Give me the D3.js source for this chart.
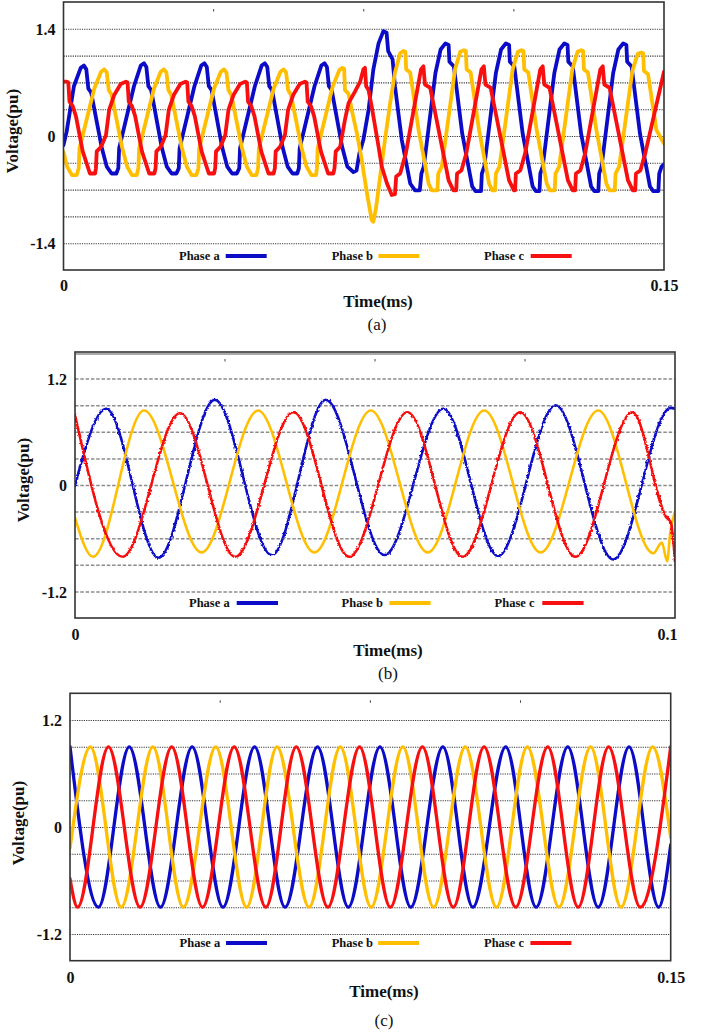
<!DOCTYPE html>
<html>
<head>
<meta charset="utf-8">
<script src="https://cdn.jsdelivr.net/npm/d3@7"></script>
<style>
  body { margin: 0; background: #fff; }
  svg { display: block; }
  text { font-family: "Liberation Serif", "Times New Roman", serif; fill: #111; }
  .tick text { font-size: 16px; font-weight: bold; }
  .axis-title { font-size: 17px; font-weight: bold; }
  .legend text { font-size: 12.5px; font-weight: bold; }
  .caption { font-size: 17px; }
</style>
</head>
<body>
<svg id="chart" width="709" height="1034"></svg>
<script>
// ---- data (time in ms, voltage in pu) ----

// panel (a)
const panelA_tMax = 0.15, panelA_vMax = 1.75;
const panelA_grid = [-1.4, -1.05, -0.7, -0.35, 0, 0.35, 0.7, 1.05, 1.4];
const panelA_yTicks = [-1.4, 0, 1.4];
const panelA_yTickLabels = ["-1.4", "0", "1.4"];
const panelA_xTicks = [0, 0.15];
const panelA_xTickLabels = ["0", "0.15"];

const panelA_phaseA = [
  [0,-0.12],[0.0008,0.06],[0.0026,0.65],[0.0043,0.89],[0.0051,0.92],[0.0057,0.87],[0.0062,0.62],[0.0069,0.57],[0.0095,-0.14],[0.0108,-0.40],[0.0120,-0.49],[0.0132,-0.49],
  [0.0137,-0.42],[0.0139,-0.16],[0.0176,0.65],[0.0193,0.92],[0.0201,0.95],[0.0207,0.90],[0.0212,0.65],[0.0219,0.60],[0.0245,-0.14],[0.0258,-0.40],[0.0270,-0.49],[0.0282,-0.49],
  [0.0288,-0.42],[0.0290,-0.16],[0.0327,0.65],[0.0344,0.92],[0.0352,0.95],[0.0358,0.90],[0.0363,0.65],[0.0370,0.60],[0.0396,-0.14],[0.0409,-0.40],[0.0421,-0.49],[0.0433,-0.49],
  [0.0439,-0.42],[0.0441,-0.16],[0.0478,0.65],[0.0495,0.92],[0.0503,0.95],[0.0509,0.90],[0.0514,0.65],[0.0521,0.60],[0.0547,-0.14],[0.0560,-0.40],[0.0572,-0.49],[0.0584,-0.49],
  [0.0588,-0.42],[0.0590,-0.16],[0.0627,0.65],[0.0644,0.92],[0.0652,0.95],[0.0658,0.90],[0.0663,0.65],[0.0670,0.60],[0.0696,-0.14],[0.0709,-0.40],
  [0.0724,-0.47],[0.0732,-0.45],[0.0739,-0.23],[0.0749,-0.05],[0.0762,0.34],[0.0774,0.87],[0.0787,1.21],[0.0799,1.37],[0.0807,1.35],[0.0811,1.11],[0.0822,1.00],[0.0828,0.65],[0.0845,-0.05],[0.0866,-0.62],[0.0878,-0.71],[0.0890,-0.71],
  [0.0894,-0.49],[0.0900,-0.40],[0.0929,0.82],[0.0942,1.13],[0.0954,1.21],[0.0962,1.19],[0.0964,0.97],[0.0975,0.91],[0.0996,0.03],[0.1021,-0.66],[0.1029,-0.72],[0.1043,-0.72],
  [0.1045,-0.49],[0.1051,-0.40],[0.1080,0.82],[0.1093,1.13],[0.1105,1.21],[0.1113,1.19],[0.1115,0.97],[0.1126,0.91],[0.1147,0.03],[0.1172,-0.66],[0.1180,-0.72],[0.1189,-0.72],
  [0.1191,-0.49],[0.1197,-0.40],[0.1226,0.82],[0.1239,1.13],[0.1251,1.21],[0.1259,1.19],[0.1261,0.97],[0.1272,0.91],[0.1293,0.03],[0.1318,-0.66],[0.1326,-0.72],[0.1336,-0.72],
  [0.1338,-0.49],[0.1344,-0.40],[0.1373,0.82],[0.1386,1.13],[0.1398,1.21],[0.1406,1.19],[0.1408,0.97],[0.1419,0.91],[0.1440,0.03],[0.1465,-0.66],[0.1473,-0.72],[0.1486,-0.72],
  [0.1488,-0.49],[0.1494,-0.40],[0.1500,-0.37]
];
const panelA_phaseB = [
  [0,-0.21],[0.0009,-0.40],[0.0021,-0.51],[0.0033,-0.51],
  [0.0038,-0.42],[0.0040,-0.16],[0.0077,0.62],[0.0094,0.84],[0.0102,0.87],[0.0108,0.83],[0.0113,0.60],[0.0120,0.54],[0.0146,-0.14],[0.0159,-0.40],[0.0171,-0.51],[0.0183,-0.51],
  [0.0187,-0.42],[0.0189,-0.16],[0.0226,0.62],[0.0243,0.84],[0.0251,0.87],[0.0257,0.83],[0.0262,0.60],[0.0269,0.54],[0.0295,-0.14],[0.0308,-0.40],[0.0320,-0.51],[0.0332,-0.51],
  [0.0337,-0.42],[0.0339,-0.16],[0.0376,0.62],[0.0393,0.84],[0.0401,0.87],[0.0407,0.83],[0.0412,0.60],[0.0419,0.54],[0.0445,-0.14],[0.0458,-0.40],[0.0470,-0.51],[0.0482,-0.51],
  [0.0486,-0.42],[0.0488,-0.16],[0.0525,0.62],[0.0542,0.84],[0.0550,0.87],[0.0556,0.83],[0.0561,0.60],[0.0568,0.54],[0.0594,-0.14],[0.0607,-0.40],[0.0619,-0.51],[0.0631,-0.51],
  [0.0633,-0.42],[0.0635,-0.16],[0.0672,0.64],[0.0689,0.86],[0.0697,0.89],[0.0701,0.88],[0.0703,0.60],[0.0712,0.55],[0.0720,0.34],[0.0733,0.03],[0.0745,-0.31],[0.0758,-0.75],
  [0.0770,-1.10],[0.0774,-1.12],[0.0781,-0.93],[0.0791,-0.53],[0.0803,-0.05],[0.0816,0.43],[0.0828,0.83],[0.0841,1.08],[0.0849,1.11],
  [0.0854,1.10],[0.0856,0.87],[0.0866,0.83],[0.0887,0.08],[0.0912,-0.62],[0.0920,-0.71],[0.0934,-0.71],
  [0.0936,-0.49],[0.0945,-0.40],[0.0978,0.87],[0.0991,1.10],[0.1000,1.12],[0.1005,1.11],[0.1007,0.87],[0.1017,0.83],[0.1038,0.08],[0.1063,-0.62],[0.1071,-0.71],[0.1078,-0.71],
  [0.1080,-0.49],[0.1089,-0.40],[0.1122,0.87],[0.1135,1.10],[0.1144,1.12],[0.1149,1.11],[0.1151,0.87],[0.1161,0.83],[0.1182,0.08],[0.1207,-0.62],[0.1215,-0.71],[0.1227,-0.71],
  [0.1229,-0.49],[0.1238,-0.40],[0.1271,0.87],[0.1284,1.10],[0.1293,1.12],[0.1298,1.11],[0.1300,0.87],[0.1310,0.83],[0.1331,0.08],[0.1356,-0.62],[0.1364,-0.71],[0.1377,-0.71],
  [0.1379,-0.49],[0.1388,-0.40],[0.1421,0.85],[0.1434,1.07],[0.1443,1.09],[0.1448,1.08],[0.1450,0.85],[0.1460,0.81],[0.1481,0.08],[0.1500,-0.10]
];
const panelA_phaseC = [
  [0,0.71],[0.0008,0.71],[0.0012,0.70],[0.0015,0.45],[0.0023,0.39],[0.0031,0.26],[0.0048,-0.20],[0.0066,-0.49],[0.0079,-0.49],
  [0.0081,-0.42],[0.0083,-0.20],[0.0094,-0.14],[0.0106,0.01],[0.0114,0.34],[0.0127,0.54],[0.0143,0.68],[0.0156,0.71],[0.0160,0.70],[0.0163,0.45],[0.0171,0.39],[0.0179,0.26],[0.0196,-0.20],[0.0214,-0.49],[0.0227,-0.49],
  [0.0230,-0.42],[0.0232,-0.20],[0.0243,-0.14],[0.0255,0.01],[0.0263,0.34],[0.0276,0.54],[0.0292,0.68],[0.0305,0.71],[0.0309,0.70],[0.0312,0.45],[0.0320,0.39],[0.0328,0.26],[0.0345,-0.20],[0.0363,-0.49],[0.0376,-0.49],
  [0.0379,-0.42],[0.0381,-0.20],[0.0392,-0.14],[0.0404,0.01],[0.0412,0.34],[0.0425,0.54],[0.0441,0.68],[0.0454,0.71],[0.0458,0.70],[0.0461,0.45],[0.0469,0.39],[0.0477,0.26],[0.0494,-0.20],[0.0512,-0.49],[0.0525,-0.49],
  [0.0528,-0.42],[0.0530,-0.20],[0.0541,-0.14],[0.0553,0.01],[0.0561,0.34],[0.0574,0.54],[0.0590,0.68],[0.0603,0.71],[0.0607,0.70],[0.0610,0.45],[0.0618,0.39],[0.0626,0.26],[0.0643,-0.20],[0.0661,-0.49],[0.0674,-0.49],
  [0.0677,-0.42],[0.0680,-0.20],[0.0691,-0.14],[0.0703,0.21],[0.0712,0.43],[0.0728,0.58],[0.0741,0.71],[0.0749,0.87],[0.0753,0.89],[0.0756,0.65],[0.0762,0.60],[0.0770,0.38],[0.0787,-0.14],[0.0795,-0.40],
  [0.0808,-0.62],[0.0820,-0.77],[0.0828,-0.76],[0.0831,-0.53],[0.0841,-0.49],
  [0.0855,-0.23],[0.0893,0.87],[0.0899,0.91],[0.0903,0.67],[0.0916,0.63],[0.0937,0.08],[0.0962,-0.58],[0.0974,-0.71],[0.0981,-0.71],
  [0.0983,-0.49],[0.0994,-0.45],[0.1006,-0.23],[0.1044,0.87],[0.1050,0.91],[0.1054,0.67],[0.1067,0.63],[0.1088,0.08],[0.1113,-0.58],[0.1125,-0.71],[0.1128,-0.71],
  [0.1130,-0.49],[0.1141,-0.45],[0.1153,-0.23],[0.1191,0.87],[0.1197,0.91],[0.1201,0.67],[0.1214,0.63],[0.1235,0.08],[0.1260,-0.58],[0.1272,-0.71],[0.1278,-0.71],
  [0.1280,-0.49],[0.1291,-0.45],[0.1303,-0.23],[0.1341,0.87],[0.1347,0.91],[0.1351,0.67],[0.1364,0.63],[0.1385,0.08],[0.1410,-0.58],[0.1422,-0.71],[0.1428,-0.71],
  [0.1430,-0.49],[0.1441,-0.45],[0.1453,-0.23],[0.1500,0.84]
];

// panel (b)
const panelB_tMax = 0.1, panelB_vMax = 1.5;
const panelB_grid = [-1.2, -0.9, -0.6, -0.3, 0, 0.3, 0.6, 0.9, 1.2];
const panelB_yTicks = [-1.2, 0, 1.2];
const panelB_yTickLabels = ["-1.2", "0", "1.2"];
const panelB_xTicks = [0, 0.1];
const panelB_xTickLabels = ["0", "0.1"];

const panelB_phaseA = [
  [0,0.0],[0.0052,0.86],[0.0139,-0.82],[0.0233,0.96],[0.0328,-0.79],[0.0418,0.96],[0.0516,-0.79],
  [0.0614,0.86],[0.0705,-0.80],[0.0801,0.90],[0.0897,-0.84],[0.0993,0.87],[0.1,0.86]
];
const panelB_phaseB = [
  [0,-0.37],[0.0030,-0.81],[0.0115,0.84],[0.0211,-0.76],[0.0305,0.84],[0.0399,-0.76],[0.0493,0.84],[0.0588,-0.76],
  [0.0682,0.84],[0.0776,-0.76],[0.0872,0.84],[0.0964,-0.77],[0.0978,-0.65],[0.0987,-0.86],[0.0992,-0.54],[0.1,-0.30]
];
const panelB_phaseC = [
  [0,0.79],[0.0079,-0.81],[0.0175,0.81],[0.0267,-0.81],[0.0364,0.82],[0.0457,-0.81],[0.0554,0.82],
  [0.0646,-0.81],[0.0742,0.82],[0.0834,-0.81],[0.0929,0.82],[0.0986,-0.37],[0.0993,-0.42],[0.1,-0.86]
];

// panel (c)
const panelC_tMax = 0.15, panelC_vMax = 1.5;
const panelC_grid = [-1.2, -0.9, -0.6, -0.3, 0, 0.3, 0.6, 0.9, 1.2];
const panelC_yTicks = [-1.2, 0, 1.2];
const panelC_yTickLabels = ["-1.2", "0", "1.2"];
const panelC_xTicks = [0, 0.15];
const panelC_xTickLabels = ["0", "0.15"];

const panelC_phaseA = [
  [0,0.90],[0.0071,-0.90],[0.0148,0.90],[0.0226,-0.90],[0.0305,0.90],[0.0382,-0.90],[0.0461,0.90],[0.0537,-0.90],
  [0.0618,0.90],[0.0695,-0.90],[0.0774,0.90],[0.0851,-0.90],[0.0931,0.90],[0.1006,-0.90],[0.1088,0.90],[0.1164,-0.90],
  [0.1243,0.90],[0.1319,-0.90],[0.1396,0.90],[0.1470,-0.90],[0.1500,-0.20]
];
const panelC_phaseB = [
  [0,-0.24],[0.0051,0.90],[0.0128,-0.90],[0.0207,0.90],[0.0283,-0.90],[0.0364,0.90],[0.0441,-0.90],[0.0517,0.90],
  [0.0597,-0.90],[0.0675,0.90],[0.0752,-0.90],[0.0831,0.90],[0.0908,-0.90],[0.0987,0.90],[0.1065,-0.90],[0.1142,0.90],
  [0.1221,-0.90],[0.1300,0.90],[0.1376,-0.90],[0.1455,0.90],[0.1500,-0.12]
];
const panelC_phaseC = [
  [0,-0.58],[0.0019,-0.90],[0.0096,0.90],[0.0175,-0.90],[0.0254,0.90],[0.0331,-0.90],[0.0410,0.90],[0.0489,-0.90],
  [0.0565,0.90],[0.0644,-0.90],[0.0723,0.90],[0.0800,-0.90],[0.0880,0.90],[0.0957,-0.90],[0.1034,0.90],[0.1113,-0.90],
  [0.1193,0.90],[0.1269,-0.90],[0.1345,0.90],[0.1424,-0.90],[0.1500,0.90]
];

const phaseNames = ["Phase a", "Phase b", "Phase c"];

// ---- styles / layout ----
const phaseColors = ["#0c0cc8", "#ffbf00", "#f81010"];

const panels = [
  { key: "a", caption: "(a)",
    series: [panelA_phaseA, panelA_phaseB, panelA_phaseC],
    tMax: panelA_tMax, vMax: panelA_vMax, grid: panelA_grid,
    yTicks: panelA_yTicks, yTickLabels: panelA_yTickLabels,
    xTicks: panelA_xTicks, xTickLabels: panelA_xTickLabels,
    left: 63.5, right: 664, top: 2, bottom: 270,
    curve: d3.curveLinear, lineWidth: 3.8, gridType: "dot", fuzz: [false, false, false],
    legendY: 256, legendX: [179, 331.7, 484], legendGap: 46.7, legendLen: 41,
    xLabelY: 291, lastTickDx: 0, timeY: 307, timeX: 378, capY: 330, capX: 377, voltX: 12, voltY: 131 },
  { key: "b", caption: "(b)",
    series: [panelB_phaseA, panelB_phaseB, panelB_phaseC],
    tMax: panelB_tMax, vMax: panelB_vMax, grid: panelB_grid,
    yTicks: panelB_yTicks, yTickLabels: panelB_yTickLabels,
    xTicks: panelB_xTicks, xTickLabels: panelB_xTickLabels,
    left: 75, right: 675, top: 352, bottom: 618,
    curve: d3.curveMonotoneX, lineWidth: 2.6, gridType: "dash", fuzz: [true, false, true],
    legendY: 603, legendX: [189, 341.6, 494.6], legendGap: 47.7, legendLen: 41.3,
    xLabelY: 640, lastTickDx: -8, timeY: 656, timeX: 388, capY: 679, capX: 388, voltX: 22.6, voltY: 480 },
  { key: "c", caption: "(c)",
    series: [panelC_phaseA, panelC_phaseB, panelC_phaseC],
    tMax: panelC_tMax, vMax: panelC_vMax, grid: panelC_grid,
    yTicks: panelC_yTicks, yTickLabels: panelC_yTickLabels,
    xTicks: panelC_xTicks, xTickLabels: panelC_xTickLabels,
    left: 70, right: 670.7, top: 693.3, bottom: 960.7,
    curve: d3.curveMonotoneX, lineWidth: 3.3, gridType: "dot", fuzz: [false, false, false],
    legendY: 943, legendX: [179.6, 331.7, 484], legendGap: 46.4, legendLen: 41,
    xLabelY: 983, lastTickDx: 0, timeY: 997, timeX: 384, capY: 1026, capX: 384, voltX: 18.5, voltY: 823 }
];

const svg = d3.select("#chart");
const defs = svg.append("defs");

// soft shadow under legend swatches
defs.append("filter").attr("id", "shadow")
    .attr("x", "-20%").attr("y", "-200%").attr("width", "140%").attr("height", "500%")
  .append("feGaussianBlur").attr("stdDeviation", 1.2);

// noisy trace look for panel (b)
let fz = defs.append("filter").attr("id", "fuzz")
    .attr("x", "-5%").attr("y", "-5%").attr("width", "110%").attr("height", "110%");
fz.append("feTurbulence").attr("type", "fractalNoise").attr("baseFrequency", 0.4)
    .attr("numOctaves", 2).attr("seed", 4).attr("result", "noise");
fz.append("feDisplacementMap").attr("in", "SourceGraphic").attr("in2", "noise")
    .attr("scale", 3).attr("xChannelSelector", "R").attr("yChannelSelector", "G");

panels.forEach(function (p) {
  const x = d3.scaleLinear().domain([0, p.tMax]).range([p.left, p.right]);
  const y = d3.scaleLinear().domain([-p.vMax, p.vMax]).range([p.bottom, p.top]);
  const g = svg.append("g").attr("class", "panel-" + p.key);
  const w = p.right - p.left;

  defs.append("clipPath").attr("id", "clip-" + p.key)
    .append("rect").attr("x", p.left).attr("y", p.top).attr("width", w).attr("height", p.bottom - p.top);

  // gridlines
  let grid = g.append("g")
      .attr("transform", `translate(${p.left},0)`)
      .call(d3.axisLeft(y).tickValues(p.grid).tickSize(-w).tickFormat(""));
  grid.select(".domain").remove();
  if (p.gridType === "dot") {
    grid.selectAll("line").attr("stroke", "#3a3a3a").attr("stroke-width", 1.1).attr("stroke-dasharray", "1.2,1.1");
  } else {
    grid.selectAll("line").attr("stroke", "#8c8c8c").attr("stroke-width", 1.5).attr("stroke-dasharray", "3.5,1.8");
  }

  // small marks along the top edge
  g.selectAll(".topmark")
    .data([0.25, 0.5, 0.75])
    .join("line")
    .attr("x1", (d) => x(d * p.tMax)).attr("x2", (d) => x(d * p.tMax))
    .attr("y1", p.top + 7).attr("y2", p.top + 9.5)
    .attr("stroke", "#444").attr("stroke-width", 1);

  // waveforms
  const line = d3.line().x((d) => x(d[0])).y((d) => y(d[1])).curve(p.curve);
  const traces = g.append("g").attr("clip-path", `url(#clip-${p.key})`);
  p.series.forEach(function (s, i) {
    traces.append("path")
      .datum(s)
      .attr("d", line)
      .attr("fill", "none")
      .attr("stroke", phaseColors[i])
      .attr("stroke-width", p.lineWidth)
      .attr("stroke-linejoin", "round")
      .attr("stroke-linecap", "round")
      .attr("filter", p.fuzz[i] ? "url(#fuzz)" : null);
  });

  // frame
  g.append("rect")
    .attr("x", p.left).attr("y", p.top).attr("width", w).attr("height", p.bottom - p.top)
    .attr("fill", "none").attr("stroke", "#333").attr("stroke-width", 1.6);
  if (p.key === "b") {
    g.append("line").attr("x1", p.left).attr("x2", p.right)
      .attr("y1", p.top + 2).attr("y2", p.top + 2)
      .attr("stroke", "#555").attr("stroke-width", 1.2);
  }

  // y axis labels
  let yAxis = g.append("g")
      .attr("transform", `translate(${p.left},0)`)
      .call(d3.axisLeft(y).tickValues(p.yTicks).tickSize(0).tickPadding(8)
        .tickFormat((d, i) => p.yTickLabels[i]));
  yAxis.select(".domain").remove();
  yAxis.selectAll("text").attr("dy", "0.35em");

  // x axis labels
  let xAxis = g.append("g")
      .attr("transform", `translate(0,${p.bottom})`)
      .call(d3.axisBottom(x).tickValues(p.xTicks).tickSize(0).tickPadding(0)
        .tickFormat((d, i) => p.xTickLabels[i]));
  xAxis.select(".domain").remove();
  xAxis.selectAll("text").attr("dy", null).attr("y", p.xLabelY - p.bottom)
    .attr("dx", (d, i) => i === p.xTicks.length - 1 ? p.lastTickDx : 0);

  // titles
  g.append("text").attr("class", "axis-title")
    .attr("x", p.timeX).attr("y", p.timeY).attr("text-anchor", "middle")
    .text("Time(ms)");
  g.append("text").attr("class", "axis-title")
    .attr("transform", `translate(${p.voltX},${p.voltY}) rotate(-90)`)
    .attr("text-anchor", "middle").attr("dy", "0.35em")
    .text("Voltage(pu)");
  g.append("text").attr("class", "caption")
    .attr("x", p.capX).attr("y", p.capY).attr("text-anchor", "middle")
    .attr("fill", p.key === "b" ? "#555" : "#111")
    .text(p.caption);

  // legend
  const lg = g.append("g").attr("class", "legend");
  phaseNames.forEach(function (name, i) {
    const lx = p.legendX[i];
    lg.append("text").attr("x", lx).attr("y", p.legendY + 4).text(name);
    lg.append("line")
      .attr("x1", lx + p.legendGap + 1).attr("x2", lx + p.legendGap + p.legendLen + 1)
      .attr("y1", p.legendY + 3.5).attr("y2", p.legendY + 3.5)
      .attr("stroke", "#8a8a8a").attr("stroke-width", 3).attr("filter", "url(#shadow)");
    lg.append("line")
      .attr("x1", lx + p.legendGap).attr("x2", lx + p.legendGap + p.legendLen)
      .attr("y1", p.legendY).attr("y2", p.legendY)
      .attr("stroke", phaseColors[i]).attr("stroke-width", 4);
  });
});
</script>
</body>
</html>
